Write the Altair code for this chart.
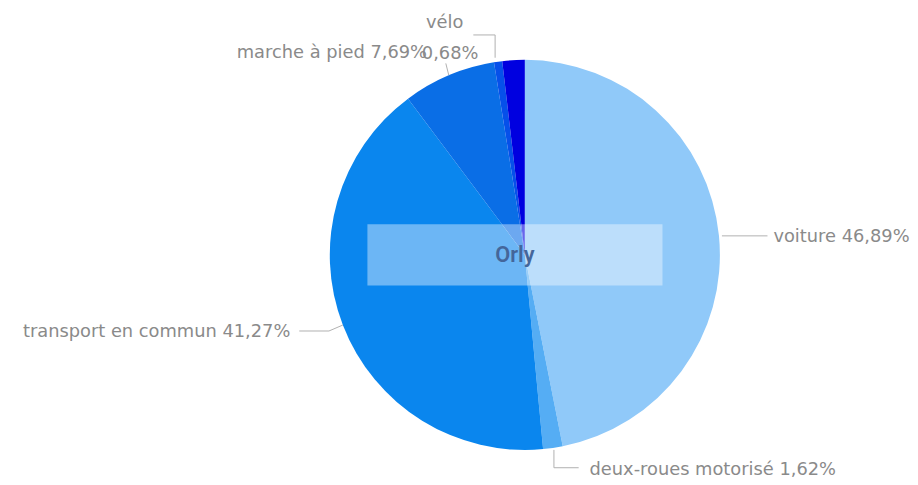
import altair as alt
import pandas as pd
import numpy as np

# ---- data ----
categories = ["voiture", "deux-roues motorisé", "transport en commun", "marche à pied", "vélo", "autre"]
shares = [46.89, 1.62, 41.27, 7.69, 0.68, 1.85]
title_label = "Orly"

# ---- style / layout ----
colors = ["#90C9F9", "#55ADF4", "#0A86EE", "#0A6EE6", "#0650EA", "#0000E0"]
W, H = 902, 469
CX, CY, R = 522, 247, 197
LABEL_COLOR = "#8a8a8a"
LINE_COLOR = "#b0b0b0"
FONT = "DejaVu Sans"
FS = 18

df = pd.DataFrame({"cat": categories, "share": shares, "idx": range(len(categories))})
df["pct"] = [f"{v:.2f}".replace(".", ",") + "%" for v in shares]

total = sum(shares)
cum = np.cumsum([0] + shares[:-1])
mid = [(c + s / 2) / total * 2 * np.pi for c, s in zip(cum, shares)]
anchors = {cat: (CX + R * np.sin(a), CY - R * np.cos(a)) for cat, a in zip(categories, mid)}

# leader-line layout: offsets relative to each slice's anchor point
line_layout = {
    "voiture": [(3, 0), (49, 0)],
    "deux-roues motorisé": [(1, 2), (1, 20), (26, 20)],
    "transport en commun": [(0, 0), (-14, 6), (-44, 6)],
    "marche à pied": [(0, 0), (-3, -12)],
    "vélo": [(-3, -4), (-3, -27), (-25, -27)],
}
text_layout = [
    # (category, kind, dx, dy, align)
    ("voiture", "full", 55, 1, "left"),
    ("deux-roues motorisé", "full", 37, 22, "left"),
    ("transport en commun", "full", -53, 7, "right"),
    ("marche à pied", "full", -22, -22, "right"),
    ("vélo", "name", -35, -39, "right"),
    ("vélo", "pct", -77, -8, "left"),
]

line_rows = []
for cat, pts in line_layout.items():
    ax, ay = anchors[cat]
    for k, (dx, dy) in enumerate(pts):
        line_rows.append({"cat": cat, "k": k, "x": ax + dx, "y": ay + dy})
lines_df = pd.DataFrame(line_rows)

pct_map = dict(zip(df["cat"], df["pct"]))
text_rows = []
for cat, kind, dx, dy, align in text_layout:
    ax, ay = anchors[cat]
    if kind == "full":
        t = f"{cat} {pct_map[cat]}"
    elif kind == "name":
        t = cat
    else:
        t = pct_map[cat]
    text_rows.append({"t": t, "x": ax + dx, "y": ay + dy, "align": align})
texts_df = pd.DataFrame(text_rows)

xs = alt.Scale(domain=[0, W])
ys = alt.Scale(domain=[0, H], reverse=True)

pie = alt.Chart(df).mark_arc(outerRadius=R).encode(
    theta=alt.Theta("share:Q", stack=True),
    color=alt.Color("cat:N", scale=alt.Scale(domain=categories, range=colors), legend=None),
    order=alt.Order("idx:Q"),
    x=alt.value(CX),
    y=alt.value(CY),
)

leaders = alt.Chart(lines_df).mark_line(color=LINE_COLOR, strokeWidth=1).encode(
    x=alt.X("x:Q", scale=xs, axis=None),
    y=alt.Y("y:Q", scale=ys, axis=None),
    detail="cat:N",
    order="k:Q",
)

left_txt = alt.Chart(texts_df[texts_df["align"] == "left"]).mark_text(
    align="left", baseline="middle", font=FONT, fontSize=FS, color=LABEL_COLOR
).encode(x=alt.X("x:Q", scale=xs, axis=None), y=alt.Y("y:Q", scale=ys, axis=None), text="t:N")

right_txt = alt.Chart(texts_df[texts_df["align"] == "right"]).mark_text(
    align="right", baseline="middle", font=FONT, fontSize=FS, color=LABEL_COLOR
).encode(x=alt.X("x:Q", scale=xs, axis=None), y=alt.Y("y:Q", scale=ys, axis=None), text="t:N")

box_df = pd.DataFrame({"x": [CX - 159], "x2": [CX + 139], "y": [CY - 31], "y2": [CY + 31], "t": [title_label]})
box = alt.Chart(box_df).mark_rect(color="white", opacity=0.4).encode(
    x=alt.X("x:Q", scale=xs, axis=None), x2="x2:Q",
    y=alt.Y("y:Q", scale=ys, axis=None), y2="y2:Q",
)
center_txt = alt.Chart(box_df).transform_calculate(xc="(datum.x + datum.x2) / 2", yc="(datum.y + datum.y2) / 2").mark_text(
    align="center", baseline="middle", font="Roboto", fontSize=22, fontWeight=600, color="#44669a"
).encode(x=alt.X("xc:Q", scale=xs, axis=None), y=alt.Y("yc:Q", scale=ys, axis=None), text="t:N")

chart = alt.layer(pie, leaders, left_txt, right_txt, box, center_txt).properties(
    width=W, height=H, padding=0, background="white"
).configure_view(strokeWidth=0, stroke=None)

chart.save("out.html", embed_options={"renderer": "svg", "actions": False})
